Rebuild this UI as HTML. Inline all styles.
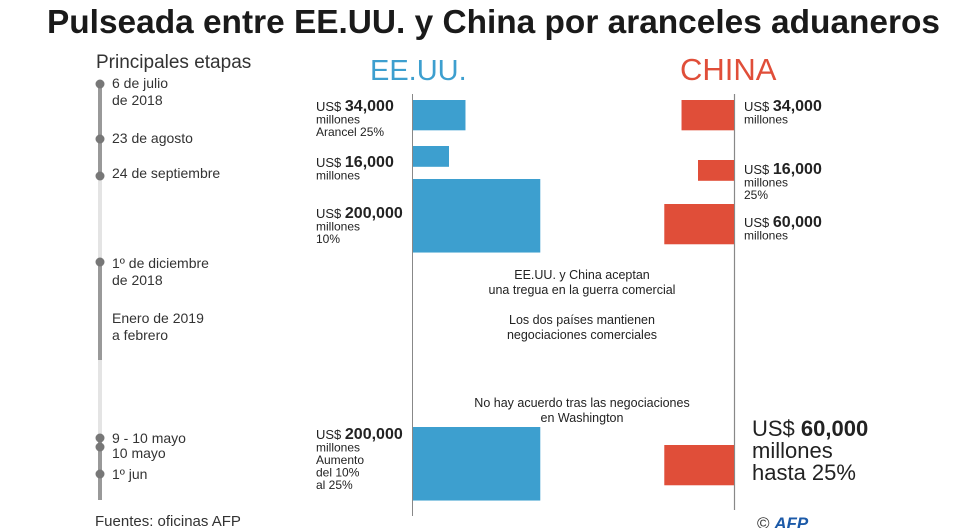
<!DOCTYPE html>
<html><head><meta charset="utf-8"><style>
html,body{margin:0;padding:0;background:#fff;}
svg{display:block;font-family:"Liberation Sans",sans-serif;}
</style></head><body>
<svg id="c" width="980" height="528" viewBox="0 0 980 528">
<text x="47" y="33" font-size="33" font-weight="bold" fill="#1a1a1a" textLength="893" lengthAdjust="spacingAndGlyphs">Pulseada entre EE.UU. y China por aranceles aduaneros</text>
<text x="96" y="68" font-size="19" fill="#333">Principales etapas</text>
<g id="timeline">
<rect x="98" y="84" width="4" height="92" fill="#999"/>
<rect x="98" y="176" width="4" height="86" fill="#e4e4e4"/>
<rect x="98" y="262" width="4" height="98" fill="#999"/>
<rect x="98" y="360" width="4" height="78" fill="#e4e4e4"/>
<rect x="98" y="438" width="4" height="62" fill="#999"/>
</g>
<g font-size="14" fill="#333">
<text x="112" y="88">6 de julio</text><text x="112" y="105">de 2018</text>
<text x="112" y="143">23 de agosto</text>
<text x="112" y="178">24 de septiembre</text>
<text x="112" y="268">1º de diciembre</text><text x="112" y="285">de 2018</text>
<text x="112" y="323">Enero de 2019</text><text x="112" y="340">a febrero</text>
<text x="112" y="443">9 - 10 mayo</text>
<text x="112" y="458">10 mayo</text>
<text x="112" y="479">1º jun</text>
</g>
<text x="370" y="80" font-size="29" fill="#3d9fcf">EE.UU.</text>
<text x="680" y="80" font-size="31" fill="#e04e39">CHINA</text>
<line x1="412.5" y1="94" x2="412.5" y2="516" stroke="#888" stroke-width="1"/>
<line x1="734.5" y1="94" x2="734.5" y2="510" stroke="#888" stroke-width="1.2"/>
<g id="bars"></g>
<g font-size="12.5" fill="#222" text-anchor="middle">
<text x="582" y="279">EE.UU. y China aceptan</text><text x="582" y="294">una tregua en la guerra comercial</text>
<text x="582" y="324">Los dos países mantienen</text><text x="582" y="339">negociaciones comerciales</text>
<text x="582" y="407">No hay acuerdo tras las negociaciones</text><text x="582" y="422">en Washington</text>
</g>
<g fill="#222">
<text x="752" y="436" font-size="22">US$ <tspan font-weight="bold">60,000</tspan></text>
<text x="752" y="458" font-size="22">millones</text>
<text x="752" y="480" font-size="22">hasta 25%</text>
</g>
<text x="95" y="526" font-size="15" fill="#333">Fuentes: oficinas AFP</text>
<text x="757" y="529" font-size="17" fill="#333">© <tspan font-weight="bold" font-style="italic" fill="#1c5aa8">AFP</tspan></text>
</svg>
<script>
const timelineY = [84, 139, 176, 262, 438, 447, 474];
const usValues = [34000, 16000, 200000, 200000];
const usTops = [100, 146, 179, 427];
const cnValues = [34000, 16000, 60000, 60000];
const cnTops = [100, 160, 204, 445];
const usLabels = [["34,000","millones","Arancel 25%"],["16,000","millones"],["200,000","millones","10%"],["200,000","millones","Aumento","del 10%","al 25%"]];
const cnLabels = [["34,000","millones"],["16,000","millones","25%"],["60,000","millones"],null];
const usLabelBase = [111, 167, 218, 439];
const cnLabelBase = [111, 174, 227, 0];

const NS = "http://www.w3.org/2000/svg";
const svg = document.getElementById('c');
const bars = document.getElementById('bars');
const wScale = v => 9.0 * Math.sqrt(v / 1000);
const hScale = v => 5.2 * Math.sqrt(v / 1000);
const US_X = 413, CN_X = 734;

function mk(tag, attrs, parent) {
  const e = document.createElementNS(NS, tag);
  for (const k in attrs) e.setAttribute(k, attrs[k]);
  parent.appendChild(e);
  return e;
}
timelineY.forEach(y => {
  const d = mk('circle', {cx: 100, cy: y, r: 4.5, fill: '#777'}, svg);
  
  
});
function label(lines, x, base) {
  const g = mk('g', {fill: '#222'}, svg);
  
  
  const t = mk('text', {x: x, y: base, 'font-size': 13}, g);
  t.textContent = 'US$ ';
  const b = mk('tspan', {'font-weight': 'bold', 'font-size': 16}, t);
  b.textContent = lines[0];
  for (let i = 1; i < lines.length; i++) {
    const s = mk('text', {x: x, y: base + i * 12.5, 'font-size': 12}, g);
    s.textContent = lines[i];
  }
}
usValues.forEach((v, i) => {
  const r = mk('rect', {x: US_X, y: usTops[i], width: wScale(v), height: hScale(v), fill: '#3d9fcf'}, bars);
  
  
  label(usLabels[i], 316, usLabelBase[i]);
});
cnValues.forEach((v, i) => {
  const w = wScale(v);
  const r = mk('rect', {x: CN_X - w, y: cnTops[i], width: w, height: hScale(v), fill: '#e04e39'}, bars);
  
  
  if (cnLabels[i]) label(cnLabels[i], 744, cnLabelBase[i]);
});
</script>
</body></html>
